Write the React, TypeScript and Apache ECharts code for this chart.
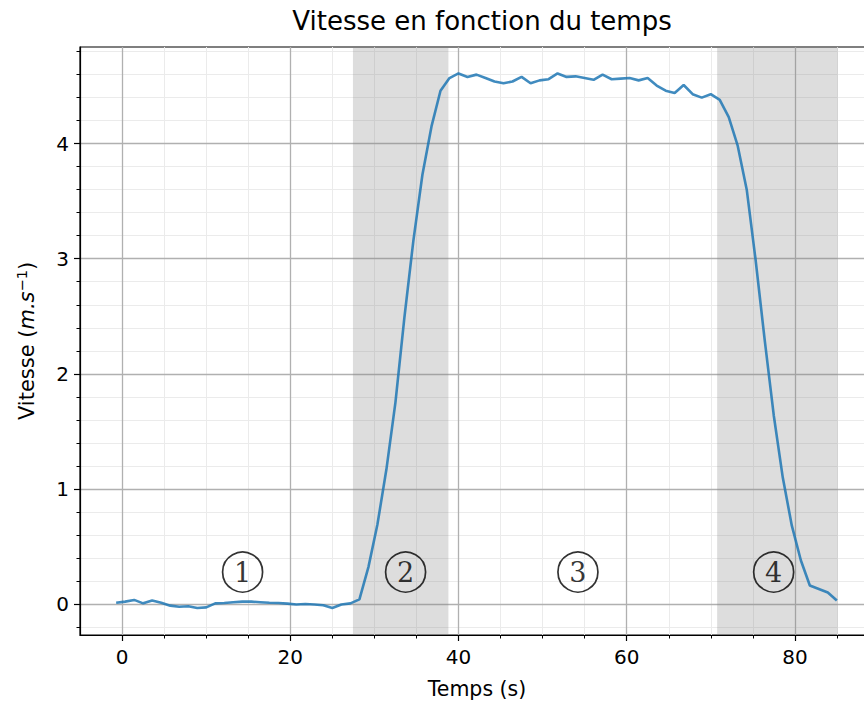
import React, { useEffect, useRef } from 'react';
import * as echarts from 'echarts';

const times = [-0.70, 0.37, 1.44, 2.51, 3.58, 4.66, 5.73, 6.80, 7.87, 8.94, 10.01, 11.08, 12.15, 13.22, 14.29, 15.37, 16.44, 17.51, 18.58, 19.65, 20.72, 21.79, 22.86, 23.93, 25.00, 26.08, 27.15, 28.22, 29.29, 30.36, 31.43, 32.50, 33.57, 34.64, 35.71, 36.79, 37.86, 38.93, 40.00, 41.07, 42.14, 43.21, 44.28, 45.35, 46.42, 47.50, 48.57, 49.64, 50.71, 51.78, 52.85, 53.92, 54.99, 56.06, 57.13, 58.21, 59.28, 60.35, 61.42, 62.49, 63.56, 64.63, 65.70, 66.77, 67.84, 68.92, 69.99, 71.06, 72.13, 73.20, 74.27, 75.34, 76.41, 77.48, 78.55, 79.63, 80.70, 81.77, 82.84, 83.91, 84.98];

const speeds = [0.01, 0.02, 0.035, 0.005, 0.03, 0.01, -0.015, -0.025, -0.02, -0.035,
  -0.03, 0.005, 0.008, 0.015, 0.02, 0.02, 0.015, 0.01, 0.008, 0.003,
  -0.005, 0.0, -0.005, -0.012, -0.035, -0.005, 0.005,
  0.04, 0.32, 0.69, 1.17, 1.75, 2.49, 3.16, 3.73, 4.15, 4.46, 4.57,
  4.61, 4.58, 4.60, 4.57, 4.54, 4.525, 4.54, 4.58, 4.525, 4.55, 4.56, 4.61, 4.58, 4.585, 4.57,
  4.555, 4.60, 4.56, 4.565, 4.57, 4.55, 4.57, 4.505, 4.46, 4.44, 4.51, 4.43, 4.40, 4.43,
  4.38, 4.23, 3.98, 3.60, 2.98, 2.29, 1.64, 1.10, 0.68, 0.38, 0.16, 0.13, 0.10, 0.03];

const phaseStarts = [27.45, 70.75];
const phaseEnds = [38.8, 85.1];

const annX = [14.33, 33.71, 54.2, 77.47];
const annY = [0.277, 0.277, 0.277, 0.277];
const annLabels = ['1', '2', '3', '4'];

const xMajorTicks = [0, 20, 40, 60, 80];
const xMinorTicks = [0, 5, 10, 15, 20, 25, 30, 35, 40, 45, 50, 55, 60, 65, 70, 75, 80, 85];
const yMajorTicks = [0, 1, 2, 3, 4];
const yMinorTicks = [-0.2, 0, 0.2, 0.4, 0.6, 0.8, 1, 1.2, 1.4, 1.6, 1.8, 2, 2.2, 2.4, 2.6, 2.8, 3, 3.2, 3.4, 3.6, 3.8, 4, 4.2, 4.4, 4.6, 4.8];

const X_MIN = -5;
const X_MAX = 89.4;
const Y_MIN = -0.27;
const Y_MAX = 4.84;

const FONT = 'DejaVu Sans';

export default function App() {
  const ref = useRef<HTMLDivElement>(null);
  useEffect(() => {
    const chart = echarts.init(ref.current!, null, { renderer: 'svg' });
    const option: any = {
      animation: false,
      backgroundColor: '#ffffff',
      title: {
        text: 'Vitesse en fonction du temps',
        left: 477,
        top: 3,
        textAlign: 'center',
        textStyle: { fontFamily: FONT, fontSize: 26, fontWeight: 'normal', color: '#000' },
      },
      grid: {
        left: 80, top: 47, right: 6, bottom: 73,
        show: true, borderColor: '#000', borderWidth: 1.2, backgroundColor: 'transparent',
      },
      xAxis: [
        {
          type: 'value', min: X_MIN, max: X_MAX, minInterval: 20, maxInterval: 20,
          position: 'bottom', z: 1,
          name: 'Temps (s)', nameLocation: 'middle', nameGap: 43,
          nameTextStyle: { fontFamily: FONT, fontSize: 20.5, color: '#000' },
          axisLine: { show: true, onZero: false, lineStyle: { color: '#000', width: 1.2 } },
          axisTick: { show: true, customValues: xMajorTicks, length: 6, lineStyle: { color: '#000', width: 1.2 } },
          axisLabel: { customValues: xMajorTicks, fontFamily: FONT, fontSize: 20, color: '#000', margin: 12 },
          splitLine: { show: true, lineStyle: { color: '#b0b0b0', width: 1.3 } },
        },
        {
          type: 'value', min: X_MIN, max: X_MAX, minInterval: 5, maxInterval: 5, splitNumber: 19,
          position: 'bottom', z: 0,
          axisLine: { show: false, onZero: false },
          axisTick: { show: true, customValues: xMinorTicks, length: 3.5, lineStyle: { color: '#000', width: 1 } },
          axisLabel: { show: false },
          splitLine: { show: true, lineStyle: { color: '#ebebeb', width: 1 } },
        },
      ],
      yAxis: [
        {
          type: 'value', min: Y_MIN, max: Y_MAX, minInterval: 1, maxInterval: 1,
          position: 'left', z: 1,
          name: '{n|Vitesse (}{i|m.s}{s|−1}{n|)}', nameLocation: 'middle', nameGap: 40, nameRotate: 90,
          nameTextStyle: {
            fontFamily: FONT, fontSize: 21, color: '#000',
            rich: {
              n: { fontFamily: FONT, fontSize: 21, color: '#000' },
              i: { fontFamily: FONT, fontSize: 21, fontStyle: 'italic', color: '#000' },
              s: { fontFamily: FONT, fontSize: 14.5, color: '#000', padding: [0, 0, 11, 0] },
            },
          },
          axisLine: { show: true, onZero: false, lineStyle: { color: '#000', width: 1.2 } },
          axisTick: { show: true, customValues: yMajorTicks, length: 6, lineStyle: { color: '#000', width: 1.2 } },
          axisLabel: { customValues: yMajorTicks, fontFamily: FONT, fontSize: 20, color: '#000', margin: 11 },
          splitLine: { show: true, lineStyle: { color: '#b0b0b0', width: 1.3 } },
        },
        {
          type: 'value', min: Y_MIN, max: Y_MAX, minInterval: 0.2, maxInterval: 0.2, splitNumber: 25,
          position: 'left', z: 0,
          axisLine: { show: false, onZero: false },
          axisTick: { show: true, customValues: yMinorTicks, length: 3.5, lineStyle: { color: '#000', width: 1 } },
          axisLabel: { show: false },
          splitLine: { show: true, lineStyle: { color: '#ebebeb', width: 1 } },
        },
      ],
      series: [
        {
          type: 'line',
          xAxisIndex: 0, yAxisIndex: 0,
          data: times.map((t, i) => [t, speeds[i]]),
          showSymbol: false,
          symbol: 'none',
          lineStyle: { color: '#1f77b4', width: 2.6, opacity: 0.85 },
          z: 3,
          markArea: {
            silent: true,
            itemStyle: { color: 'rgba(128,128,128,0.27)' },
            data: phaseStarts.map((s, i) => [{ xAxis: s }, { xAxis: phaseEnds[i] }]),
          },
        },
        {
          type: 'scatter',
          xAxisIndex: 0, yAxisIndex: 0,
          silent: true,
          z: 5,
          symbol: 'circle',
          symbolSize: 40,
          itemStyle: { color: 'rgba(255,255,255,0)', borderColor: '#000', borderWidth: 1.7 },
          label: {
            show: true, position: 'inside', formatter: '{b}',
            fontFamily: 'DejaVu Serif', fontSize: 27, color: '#000',
          },
          data: annX.map((x, i) => ({ name: annLabels[i], value: [x, annY[i]] })),
        },
      ],
    };
    chart.setOption(option);
    return () => chart.dispose();
  }, []);
  return (
    <div style={{ position: 'absolute', left: 0, top: 0, width: 864, height: 708, overflow: 'hidden', background: '#fff' }}>
      <div ref={ref} style={{ width: 880, height: 708 }} />
    </div>
  );
}
